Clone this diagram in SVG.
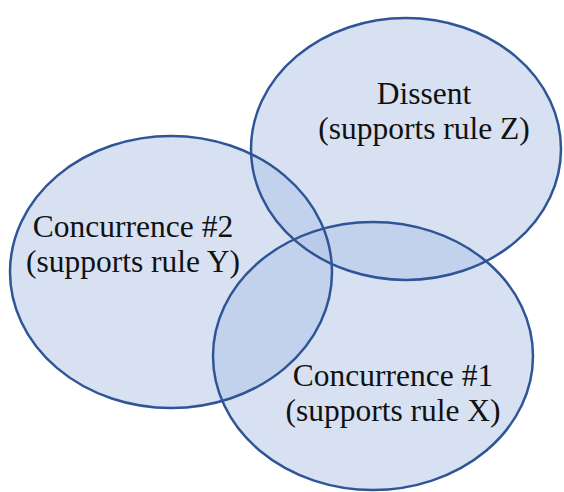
<svg xmlns="http://www.w3.org/2000/svg" width="564" height="492" viewBox="0 0 564 492">
<style>
.f{fill:#b0c4e6;fill-opacity:0.5;stroke:none}
.o{fill:none;stroke:#2f5597;stroke-width:2.5}
.t{font-family:"Liberation Serif","Times New Roman",serif;font-size:31.5px;fill:#111;text-anchor:middle}
</style>
<rect width="564" height="492" fill="#fff"/>
<g id="dissent">
<ellipse class="f" cx="406" cy="149" rx="155" ry="131"/>
<text class="t" x="424" y="104">Dissent</text>
<text class="t" x="424" y="139">(supports rule Z)</text>
</g>
<g id="concurrence2">
<ellipse class="f" cx="171" cy="272" rx="161" ry="136"/>
<text class="t" x="133" y="237">Concurrence #2</text>
<text class="t" x="133" y="272">(supports rule Y)</text>
</g>
<g id="concurrence1">
<ellipse class="f" cx="373" cy="356" rx="160" ry="134"/>
<text class="t" x="393" y="386">Concurrence #1</text>
<text class="t" x="393" y="421">(supports rule X)</text>
</g>
<g id="outlines">
<ellipse class="o" cx="406" cy="149" rx="155" ry="131"/>
<ellipse class="o" cx="171" cy="272" rx="161" ry="136"/>
<ellipse class="o" cx="373" cy="356" rx="160" ry="134"/>
</g>
</svg>
